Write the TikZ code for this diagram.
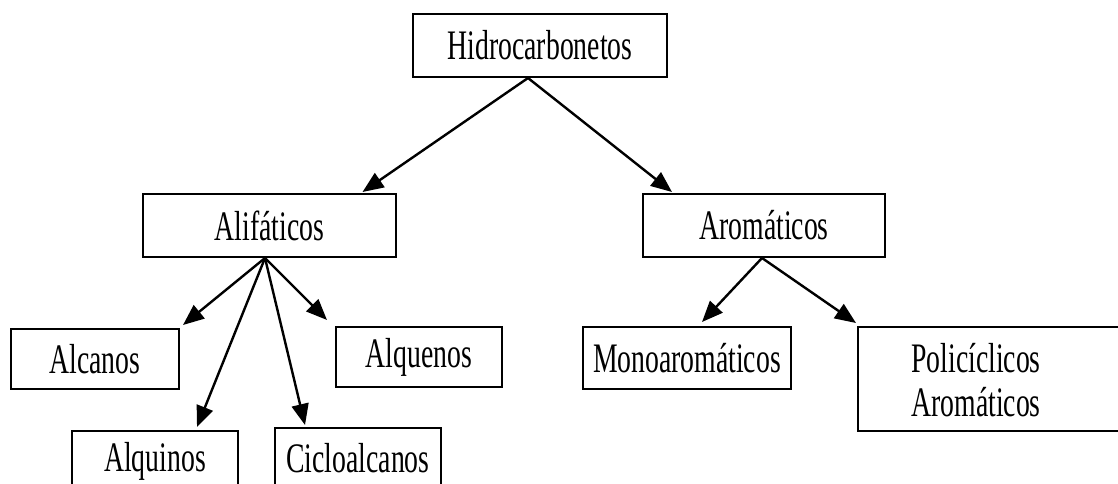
\documentclass[tikz,border=0pt]{standalone}
\usepackage{fontspec}
\setmainfont{Liberation Serif}[FakeStretch=0.66]
\usetikzlibrary{arrows.meta,calc}
\begin{document}
\begin{tikzpicture}[x=1pt,y=-1pt,
  box/.style={draw=black,line width=2pt,rectangle,inner sep=0pt,font=\fontsize{42}{47}\selectfont},
  arr/.style={draw=black,line width=2.4pt,-{Triangle[length=21pt,width=17pt]}},
  txt/.style={inner sep=0pt,font=\fontsize{42}{47}\selectfont,align=center}]
\clip (0,0) rectangle (1118,483);
\fill[white] (0,0) rectangle (1118,483);
\node[box,minimum width=254pt,minimum height=63pt] (hid) at (540,45.5) {Hidrocarbonetos};
\node[box,minimum width=253pt,minimum height=63pt] (ali) at (269.5,225.5) {Alifáticos};
\node[box,minimum width=242pt,minimum height=63pt] (aro) at (764,225.5) {Aromáticos};
\node[box,minimum width=168pt,minimum height=60pt] (alc) at (95,359) {Alcanos};
\node[box,minimum width=166pt,minimum height=60pt] (alqn) at (419,357) {Alquenos};
\node[box,minimum width=166pt,minimum height=60pt] (alqi) at (155,461) {Alquinos};
\node[box,minimum width=166pt,minimum height=60pt] (cic) at (358,458) {Cicloalcanos};
\node[box,minimum width=208pt,minimum height=62pt] (mono) at (687,358) {Monoaromáticos};
\node[box,minimum width=272pt,minimum height=104pt] (poli) at (994,379) {};
\node[txt] (politxt) at (976,380) {Policíclicos\\[-3pt]Aromáticos};
\draw[arr] ([xshift=-12pt]hid.south) -- ($(ali.north)+(93,-1)$);
\draw[arr] ([xshift=-12pt]hid.south) -- ($(aro.north)+(-92,-1)$);
\draw[arr] ([xshift=-4.5pt]ali.south) -- ($(alc.north east)+(3,-3)$);
\draw[arr] ([xshift=-4.5pt]ali.south) -- ($(alqi.north)+(42,-3)$);
\draw[arr] ([xshift=-4.5pt]ali.south) -- ($(cic.north)+(-53,-2)$);
\draw[arr] ([xshift=-4.5pt]ali.south) -- ($(alqn.north west)+(-8,-6)$);
\draw[arr] ([xshift=-2pt]aro.south) -- ($(mono.north)+(15,-4)$);
\draw[arr] ([xshift=-2pt]aro.south) -- ($(poli.north west)+(-1,-3)$);
\end{tikzpicture}
\end{document}
